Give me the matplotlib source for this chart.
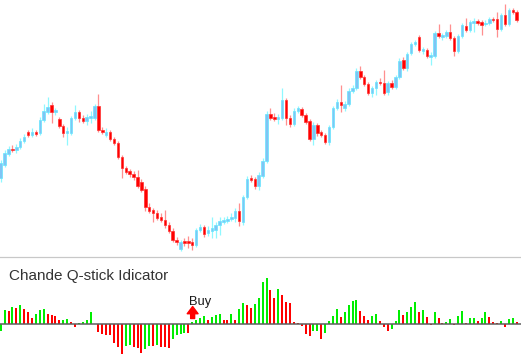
import matplotlib
matplotlib.use('Agg')
import matplotlib.pyplot as plt
from matplotlib.lines import Line2D

# price candles (pixel-like price units, 0 = bottom of the price panel)
opens = [77, 90, 101, 106, 105, 108, 114, 123, 120, 123, 122, 135, 143, 150, 143, 136, 129, 122, 122, 137,
         143, 137, 134, 137, 137, 149, 125, 120, 123, 116, 112, 98, 87, 84, 81, 78, 73, 66, 48, 45,
         42, 38, 35, 30, 24, 15, 6, 14, 14, 13, 10, 25, 28, 22, 24, 25, 30, 33, 34, 36,
         37, 44, 33, 58, 77, 76, 69, 79, 94, 141, 138, 136, 137, 155, 137, 131, 144, 146, 140, 134,
         116, 130, 123, 120, 113, 128, 147, 153, 147, 151, 164, 167, 184, 178, 171, 162, 167, 173, 172, 163,
         172, 168, 178, 195, 187, 202, 211, 218, 204, 205, 198, 199, 222, 218, 219, 223, 217, 204, 219, 229,
         225, 232, 234, 233, 231, 232, 236, 236, 226, 240, 231, 245, 243]
highs = [95, 105, 109, 110, 111, 117, 121, 125, 127, 125, 138, 151, 158, 153, 147, 138, 131, 128, 139, 150,
         145, 140, 141, 144, 151, 161, 128, 127, 125, 118, 114, 100, 89, 86, 84, 85, 76, 69, 52, 47,
         45, 42, 45, 33, 27, 18, 15, 17, 19, 17, 27, 31, 30, 29, 38, 33, 38, 38, 39, 42,
         47, 52, 60, 79, 80, 78, 83, 97, 144, 147, 142, 141, 167, 157, 140, 147, 149, 148, 142, 136,
         133, 132, 125, 122, 130, 149, 156, 170, 154, 167, 170, 187, 189, 180, 173, 169, 175, 177, 185, 174,
         175, 180, 197, 198, 203, 213, 215, 220, 208, 207, 203, 224, 231, 222, 225, 231, 219, 221, 232, 237,
         235, 237, 236, 235, 235, 238, 238, 243, 242, 251, 247, 247, 245]
lows = [73, 88, 99, 103, 102, 106, 112, 118, 118, 119, 120, 133, 141, 132, 140, 127, 118, 110, 120, 135,
        133, 132, 130, 132, 135, 123, 121, 118, 114, 110, 96, 77, 81, 78, 75, 67, 63, 44, 42, 33,
        35, 33, 27, 22, 13, 10, 4, 9, 7, 5, 8, 23, 18, 19, 17, 17, 20, 31, 32, 34,
        33, 29, 30, 56, 73, 66, 65, 77, 92, 135, 134, 131, 135, 130, 128, 129, 142, 138, 131, 114,
        110, 119, 118, 111, 110, 126, 145, 143, 144, 149, 162, 165, 176, 169, 160, 158, 160, 170, 160, 160,
        166, 166, 176, 185, 184, 200, 209, 203, 201, 197, 190, 197, 217, 215, 217, 215, 199, 202, 217, 223,
        223, 223, 230, 220, 229, 230, 233, 218, 224, 229, 229, 241, 233]
closes = [92, 102, 106, 105, 108, 114, 118, 120, 123, 121, 135, 144, 148, 143, 145, 129, 122, 124, 137, 143,
          137, 134, 138, 139, 149, 125, 123, 123, 116, 112, 98, 87, 83, 81, 78, 69, 65, 48, 44, 42,
          37, 35, 30, 24, 15, 13, 13, 12, 12, 10, 25, 28, 21, 25, 27, 30, 34, 35, 36, 38,
          44, 34, 58, 76, 75, 69, 80, 94, 141, 137, 136, 138, 155, 137, 131, 144, 147, 140, 133, 116,
          130, 122, 120, 113, 128, 147, 153, 150, 151, 164, 167, 184, 178, 171, 162, 167, 173, 172, 162, 172,
          168, 178, 194, 187, 201, 211, 213, 205, 206, 199, 200, 222, 219, 220, 223, 217, 204, 219, 230, 225,
          233, 234, 232, 230, 232, 236, 235, 226, 240, 231, 245, 243, 235]

# Chande Q-stick histogram values
qstick = [-7, 14, 13.5, 17, 16, 19, 15, 12, 6, 10, 14, 15, 10, 9.5, 8, 4, 4.3, 4.6, 2, -3,
          1, 2, 4, 12, 0, -8, -10, -10.5, -11, -19, -23, -30, -22, -21, -23, -24, -29, -25, -21.5, -22,
          -21, -23, -23.3, -23.6, -15, -11, -10, -9, -9.3, 2, 4, 6, 8, 4, 7, 9, 10, 4, 3.7, 10,
          4, 15, 21, 19, 16, 20, 26, 42, 46, 34, 26, 35, 29, 22, 21, 2, 1, -2, -10, -12,
          -7, -6.5, -15, -9, 3, 8, 15, 7, 12, 19, 23, 24, 13, 8, 4, 8, 10, 3, -3, -7,
          -5, 3, 14, 9, 12, 17, 22, 12, 14, 7, -1, 12, 6, 1, 2, 5, -1, 8, 13, 1,
          6, 6.3, 3, 6, 12, 7, 2, 1, 3, -3, 5, 6, 2]

panel_title = 'Chande Q-stick Idicator'
signal_text = 'Buy'
signal_bar = 49

font = ['Liberation Sans', 'DejaVu Sans']

fig = plt.figure(figsize=(5.21, 3.60), dpi=100)
fig.patch.set_facecolor('white')

xlim = (-0.18, 133.1)
x = list(range(len(closes)))

# --- price panel ---
ax = fig.add_axes([0, 105 / 360, 1, 255 / 360])
ax.set_xlim(*xlim)
ax.set_ylim(0, 255)
ax.axis('off')

up = [c > o for o, c in zip(opens, closes)]
wick_cols = ['#8ff8ff' if u else '#ff8f8f' for u in up]
body_cols = ['#80c4f4' if u else '#ff0000' for u in up]
edge_cols = ['#66e6ff' if u else '#ff3030' for u in up]
bottoms = [min(o, c) for o, c in zip(opens, closes)]
heights = [max(abs(c - o), 1) for o, c in zip(opens, closes)]

ax.vlines(x, lows, highs, colors=wick_cols, linewidth=0.9, zorder=1)
ax.bar(x, heights, bottom=bottoms, width=0.62, color=body_cols,
       edgecolor=edge_cols, linewidth=0.5, zorder=2)

# --- indicator panel ---
ax2 = fig.add_axes([0, 0, 1, 103 / 360])
ax2.set_xlim(*xlim)
ax2.set_ylim(-36, 67)
ax2.axis('off')

bar_cols = []
for i, v in enumerate(qstick):
    if i == 0 or v >= qstick[i - 1]:
        bar_cols.append('#00ee00')
    else:
        bar_cols.append('#ff0000')
ax2.bar(x, qstick, width=0.52, color=bar_cols, linewidth=0, zorder=2)
ax2.axhline(0, color='#5e5e5e', linewidth=1.1, zorder=3)

ax2.text(signal_bar + 1.9, qstick[signal_bar] + 17.5, signal_text, fontsize=9.3,
         family=font, color='#1a1a1a', ha='center', va='baseline')
ax2.annotate('', xy=(signal_bar + 0.1, qstick[signal_bar] + 15.5),
             xytext=(signal_bar + 0.1, qstick[signal_bar] + 3.5),
             arrowprops=dict(arrowstyle='simple,head_length=0.4,head_width=0.6,tail_width=0.22',
                             color='#ff0000', shrinkA=0, shrinkB=0, mutation_scale=13))

# separator line and panel caption
fig.add_artist(Line2D([0, 1], [1 - 256.5 / 360] * 2, color='#c8c8c8', linewidth=0.9))
fig.text(9 / 521, 1 - 280 / 360, panel_title, fontsize=11, family=font,
         color='#333333', ha='left', va='baseline')

fig.savefig('out.png', dpi=100)
